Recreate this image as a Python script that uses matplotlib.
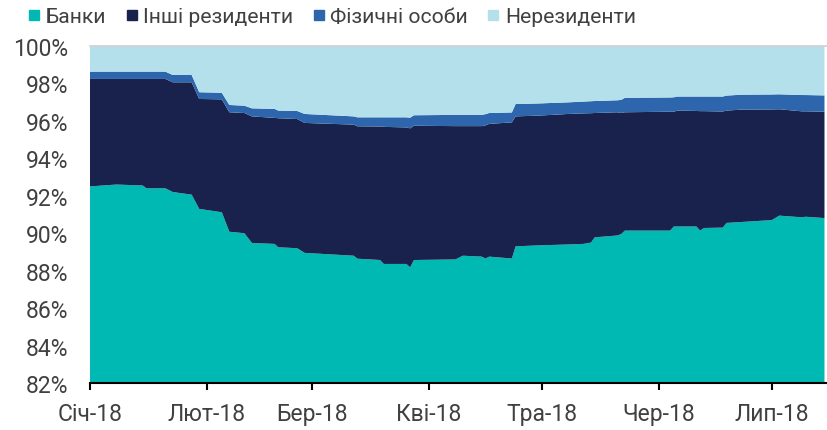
import matplotlib
matplotlib.use("Agg")
import matplotlib.pyplot as plt
import matplotlib.dates as mdates
from matplotlib.lines import Line2D
import pandas as pd

plt.rcParams['font.family'] = ['Roboto', 'DejaVu Sans']

dates = ["2018-01-01", "2018-01-08", "2018-01-15", "2018-01-16", "2018-01-21",
         "2018-01-23", "2018-01-28", "2018-01-30", "2018-02-05", "2018-02-07",
         "2018-02-11", "2018-02-13", "2018-02-19", "2018-02-20", "2018-02-25",
         "2018-02-27", "2018-03-12", "2018-03-13", "2018-03-19", "2018-03-20",
         "2018-03-26", "2018-03-27", "2018-03-28", "2018-04-08", "2018-04-10",
         "2018-04-15", "2018-04-16", "2018-04-17", "2018-04-23", "2018-04-24",
         "2018-04-30", "2018-05-08", "2018-05-12", "2018-05-14", "2018-05-15",
         "2018-05-21", "2018-05-22", "2018-05-23", "2018-06-04", "2018-06-05",
         "2018-06-06", "2018-06-11", "2018-06-12", "2018-06-13", "2018-06-18",
         "2018-06-19", "2018-06-23", "2018-07-01", "2018-07-03", "2018-07-09",
         "2018-07-10", "2018-07-15"]

banks = [92.50, 92.60, 92.55, 92.40, 92.40, 92.20, 92.06, 91.30, 91.12, 90.08,
         90.00, 89.48, 89.43, 89.25, 89.20, 88.95, 88.80, 88.64, 88.57, 88.36,
         88.36, 88.18, 88.57, 88.60, 88.80, 88.75, 88.65, 88.75, 88.65, 89.30,
         89.35, 89.40, 89.43, 89.50, 89.78, 89.88, 89.95, 90.14, 90.14, 90.36,
         90.36, 90.36, 90.14, 90.28, 90.30, 90.55, 90.60, 90.70, 90.94, 90.85,
         90.88, 90.81]

other_residents = [5.74, 5.64, 5.69, 5.84, 5.84, 5.86, 6.00, 5.87, 6.03, 6.38,
                   6.42, 6.76, 6.73, 6.89, 6.90, 6.94, 7.00, 7.07, 7.13, 7.32,
                   7.29, 7.42, 7.17, 7.12, 6.92, 6.97, 7.11, 7.09, 7.27, 6.94,
                   6.93, 6.97, 6.97, 6.91, 6.64, 6.58, 6.47, 6.32, 6.35, 6.13,
                   6.19, 6.17, 6.38, 6.24, 6.20, 6.00, 6.00, 5.91, 5.68, 5.66,
                   5.63, 5.68]

individuals = [0.39, 0.39, 0.39, 0.39, 0.39, 0.39, 0.39, 0.36, 0.35, 0.39,
               0.39, 0.43, 0.48, 0.41, 0.43, 0.48, 0.44, 0.48, 0.49, 0.51,
               0.54, 0.57, 0.56, 0.60, 0.60, 0.60, 0.60, 0.58, 0.53, 0.66,
               0.65, 0.62, 0.63, 0.64, 0.64, 0.64, 0.70, 0.77, 0.76, 0.77,
               0.75, 0.77, 0.78, 0.78, 0.80, 0.80, 0.80, 0.80, 0.80, 0.87,
               0.87, 0.87]

non_residents = [1.37, 1.37, 1.37, 1.37, 1.37, 1.55, 1.55, 2.47, 2.50, 3.15,
                 3.19, 3.33, 3.36, 3.45, 3.47, 3.63, 3.76, 3.81, 3.81, 3.81,
                 3.81, 3.83, 3.70, 3.68, 3.68, 3.68, 3.64, 3.58, 3.55, 3.10,
                 3.07, 3.01, 2.97, 2.95, 2.94, 2.90, 2.88, 2.77, 2.75, 2.74,
                 2.70, 2.70, 2.70, 2.70, 2.70, 2.65, 2.60, 2.59, 2.58, 2.62,
                 2.62, 2.64]

series_names = ["Банки", "Інші резиденти", "Фізичні особи", "Нерезиденти"]
colors = ["#00B9B2", "#18224C", "#2D66AC", "#B4E0EC"]

month_ticks = ["2018-01-01", "2018-02-01", "2018-03-01", "2018-04-01",
               "2018-05-01", "2018-06-01", "2018-07-01"]
month_labels = ["Січ-18", "Лют-18", "Бер-18", "Кві-18", "Тра-18", "Чер-18", "Лип-18"]
y_ticks = [82, 84, 86, 88, 90, 92, 94, 96, 98, 100]

x = pd.to_datetime(dates)

fig = plt.figure(figsize=(8.27, 4.31), dpi=100)
ax = fig.add_axes([0.1088, 0.109, 0.8912, 0.782])

ax.stackplot(x, banks, other_residents, individuals, non_residents,
             colors=colors, linewidth=0)

ax.set_ylim(82, 100)
ax.set_xlim(pd.Timestamp("2018-01-01"), pd.Timestamp("2018-07-15 16:00"))

ax.set_yticks(y_ticks)
ax.set_yticklabels([f"{v}%" for v in y_ticks])
ax.set_xticks(pd.to_datetime(month_ticks))
ax.set_xticklabels(month_labels)

ax.tick_params(axis='y', length=0, pad=15.5, labelsize=16.5, labelcolor="#404040")
ax.tick_params(axis='x', length=5, width=1.5, color="black", direction='out',
               pad=8.5, labelsize=16.5, labelcolor="#404040")

ax.spines['left'].set_visible(False)
ax.spines['right'].set_visible(False)
ax.spines['top'].set_color("#D0D0D0")
ax.spines['top'].set_linewidth(1.2)
ax.spines['bottom'].set_color("black")
ax.spines['bottom'].set_linewidth(1.5)

handles = [Line2D([], [], marker='s', linestyle='none', markersize=7,
                  markerfacecolor=c, markeredgecolor=c) for c in colors]
fig.legend(handles, series_names, loc='upper left', bbox_to_anchor=(0.012, 1.025),
           ncol=4, frameon=False, fontsize=15.2, handlelength=0.5,
           handletextpad=0.3, columnspacing=0.95, labelcolor="#404040")

fig.savefig("out.png", dpi=100)
